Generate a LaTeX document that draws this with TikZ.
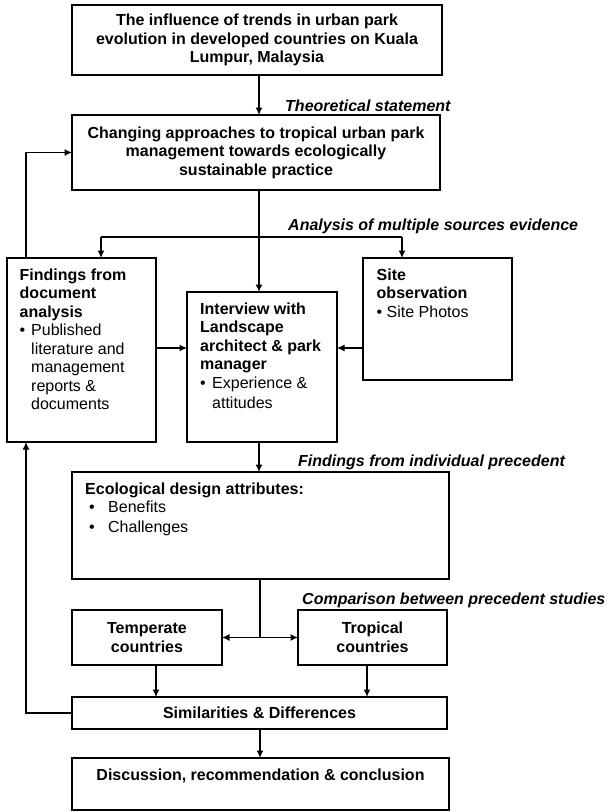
\documentclass[tikz,border=0pt]{standalone}
\usepackage{fontspec}
\setmainfont{Liberation Sans}
\usetikzlibrary{arrows.meta, positioning, calc}

\begin{document}
\begin{tikzpicture}[
        x=1pt, y=-1pt,
        >={Latex[length=7.5pt,width=7pt]},
        box/.style={rectangle, draw, line width=1.3pt, inner sep=0pt, outer sep=0pt},
        title/.style={font=\fontsize{16}{18.5}\selectfont\bfseries, align=center},
        body/.style={font=\fontsize{16}{18.5}\selectfont, inner sep=0pt, anchor=base west},
        note/.style={font=\fontsize{16}{18.5}\selectfont\bfseries\itshape, inner sep=0pt, anchor=west},
        link/.style={line width=1.3pt, ->},
        wire/.style={line width=1.3pt},
    ]
    \useasboundingbox (0,0) rectangle (610,812);

    % Theory boxes
    \node[box, title, minimum width=370pt, minimum height=70pt] (topic) at (257,40)
        {The influence of trends in urban park\\evolution in developed countries on Kuala\\Lumpur, Malaysia};
    \node[box, title, minimum width=368pt, minimum height=75pt] (approach) at (256,152.5)
        {Changing approaches to tropical urban park\\management towards ecologically\\sustainable practice};

    % Sources of evidence
    \node[box, minimum width=149pt, minimum height=184pt] (findings) at (81.5,350) {};
    \node[box, minimum width=150pt, minimum height=150pt] (interview) at (262,367) {};
    \node[box, minimum width=149pt, minimum height=122pt] (site) at (437.5,319) {};

    \node[body] (findingsT) at (19.5,280) {\parbox[t]{135pt}{%
        \textbf{Findings from}\\\textbf{document}\\\textbf{analysis}\\
        \makebox[11.5pt][l]{\textbullet}Published\\
        \hspace*{11.5pt}literature and\\\hspace*{11.5pt}management\\
        \hspace*{11.5pt}reports \&\\\hspace*{11.5pt}documents}};
    \node[body] (interviewT) at (200,314) {\parbox[t]{135pt}{%
        \textbf{Interview with}\\\textbf{Landscape}\\\textbf{architect \& park}\\\textbf{manager}\\
        \makebox[12pt][l]{\textbullet}Experience \&\\[1.5pt]
        \hspace*{12pt}attitudes}};
    \node[body] (siteT) at (376.5,280) {\parbox[t]{130pt}{%
        \textbf{Site}\\\textbf{observation}\\
        \makebox[10pt][l]{\textbullet}Site Photos}};

    % Precedent findings
    \node[box, minimum width=377pt, minimum height=107pt] (eco) at (260.5,525.5) {};
    \node[body] (ecoT) at (85,494) {\parbox[t]{300pt}{%
        \textbf{Ecological design attributes:}\\
        \hspace*{4pt}\makebox[19pt][l]{\textbullet}Benefits\\[1pt]
        \hspace*{4pt}\makebox[19pt][l]{\textbullet}Challenges}};

    \node[box, title, minimum width=150pt, minimum height=55pt] (temperate) at (147,637.5) {Temperate\\countries};
    \node[box, title, minimum width=149pt, minimum height=55pt] (tropical) at (372.5,637.5) {Tropical\\countries};
    \node[box, title, minimum width=375pt, minimum height=32pt] (similar) at (259.5,713) {Similarities \& Differences};
    \node[box, minimum width=377pt, minimum height=52pt] (discussion) at (260.5,784) {};
    \node[body, anchor=base, font=\fontsize{16}{18.5}\selectfont\bfseries] (discussionT)
        at ([yshift=-22pt]discussion.north) {Discussion, recommendation \& conclusion};

    % Labels on the flow
    \node[note] (theory) at (285,106) {Theoretical statement};
    \node[note] (multi) at (288,226) {Analysis of multiple sources evidence};
    \node[note] (indiv) at (298,462) {Findings from individual precedent};
    \node[note] (compare) at (302,600) {Comparison between precedent studies};

    % Connections
    \coordinate (split) at (259,237);
    \coordinate (forkl) at (101,237);
    \coordinate (forkr) at (402,237);
    \coordinate (cmp) at (260,638);
    \coordinate (rail) at (26,400);

    \draw[link] (topic.south -| split) -- (split |- approach.north);
    \draw[wire] (split |- approach.south) -- (split);
    \draw[wire] (forkl) -- (forkr);
    \draw[link] (split) -- (split |- interview.north);
    \draw[link] (forkl) -- (forkl |- findings.north);
    \draw[link] (forkr) -- (forkr |- site.north);
    \draw[link] ([yshift=2pt]findings.east) -- ([yshift=2pt]findings.east -| interview.west);
    \draw[link] ([yshift=2pt]findings.east -| site.west) -- ([yshift=2pt]findings.east -| interview.east);
    \draw[link] (split |- interview.south) -- (split |- eco.north);
    \draw[wire] (cmp |- eco.south) -- (cmp);
    \draw[<->, wire] (temperate.east) -- (tropical.west);
    \draw[link] ([xshift=9pt]temperate.south) -- ([xshift=9pt]temperate.south |- similar.north);
    \draw[link] ([xshift=-5.5pt]tropical.south) -- ([xshift=-5.5pt]tropical.south |- similar.north);
    \draw[link] (similar.west) -| (rail |- findings.south);
    \draw[link] (rail |- findings.north) |- (approach.west);
    \draw[link] (similar.south -| cmp) -- (cmp |- discussion.north);

\end{tikzpicture}
\end{document}
